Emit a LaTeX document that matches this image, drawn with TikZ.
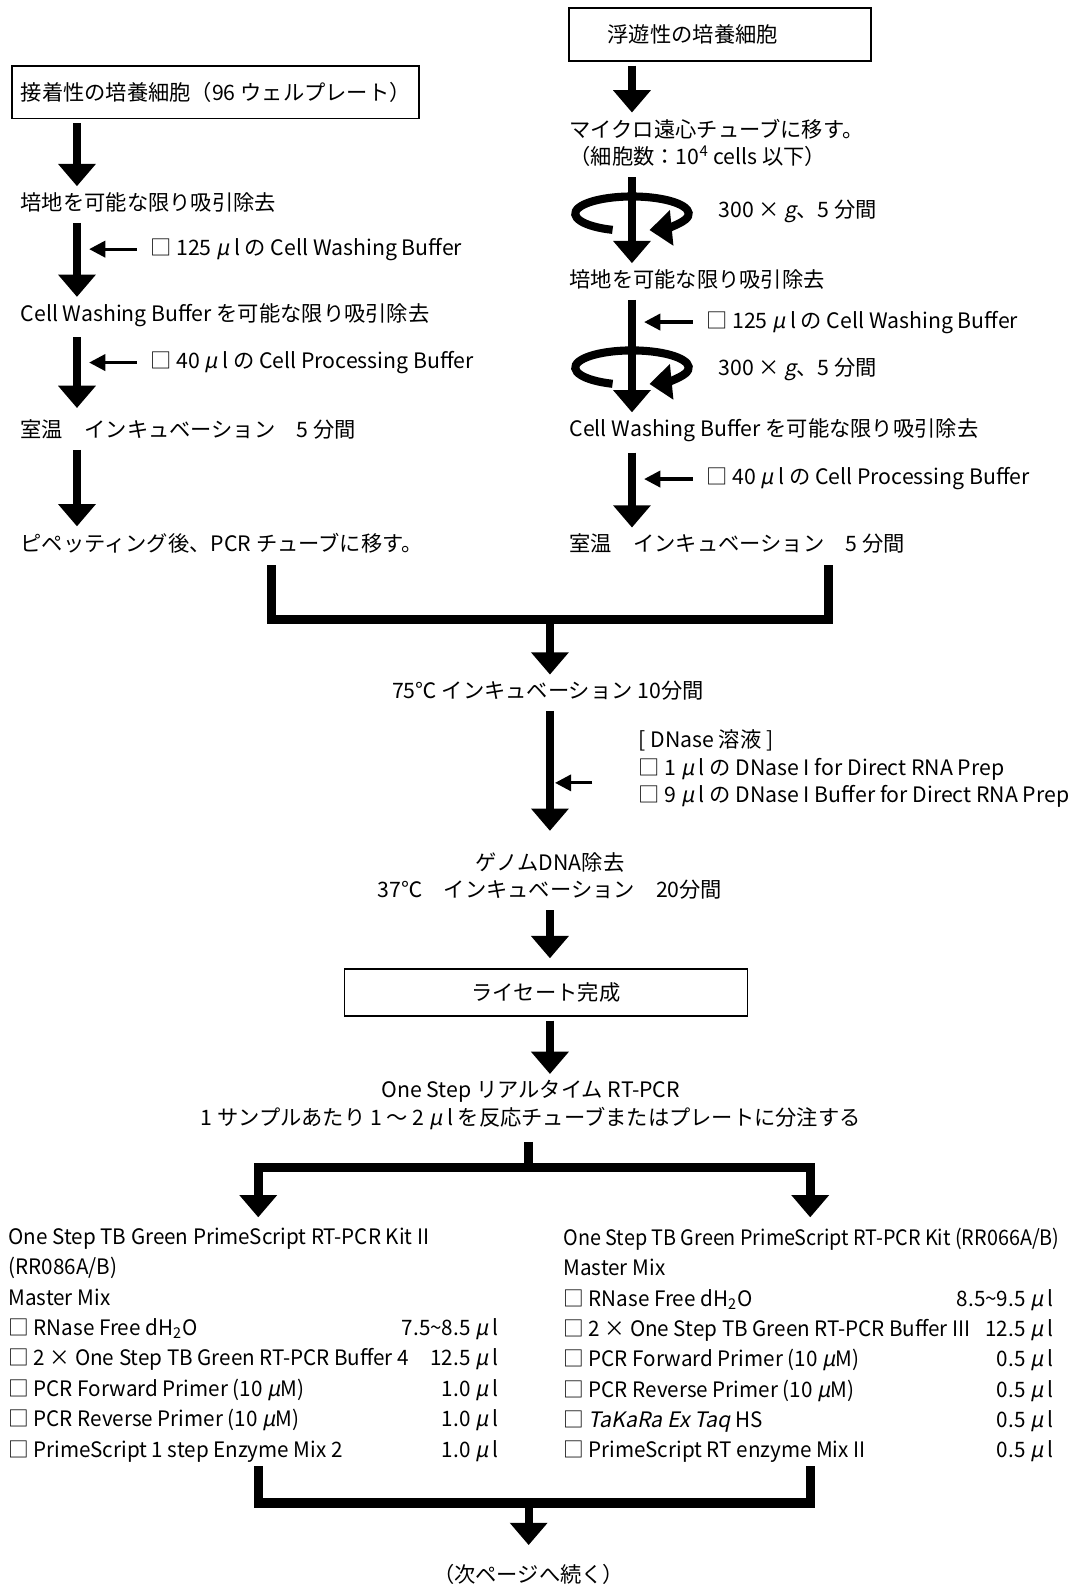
\documentclass[tikz,border=0pt]{standalone}
\usepackage{fontspec}
\setmainfont{Noto Sans CJK JP}
\newfontfamily\slantfont[FakeSlant=0.2]{Noto Sans CJK JP}
\newfontfamily\kitface[FakeStretch=0.97]{Noto Sans CJK JP}
\newfontfamily\narrowface[FakeStretch=0.93]{Noto Sans CJK JP}
\usetikzlibrary{positioning,calc,arrows.meta}

\newcommand{\stepfont}{\fontsize{10.5pt}{13.5pt}\selectfont}
\newcommand{\kitfont}{\kitface\fontsize{10.5pt}{15pt}\selectfont}
\newcommand{\microl}{{\slantfont μ}\hspace{0.2em}l}
\newcommand{\microm}{{\slantfont μ}M}
\newcommand{\kitrow}[2]{\makebox[242pt][l]{#1\hfill#2}}

\begin{document}
\begin{tikzpicture}[x=0.5pt, y=-0.5pt,
    stepbox/.style={rectangle, draw, line width=0.8pt, minimum width=#1,
                    minimum height=26pt, inner sep=0pt, font=\stepfont},
    steptext/.style={anchor=west, align=left, inner xsep=0pt, inner ysep=3pt,
                     font=\stepfont},
    kitlist/.style={anchor=north west, align=left, inner sep=0pt, font=\kitfont},
    flowarrow/.style={-{Triangle[width=18pt,length=11pt]}, line width=4pt,
                      shorten <=2pt},
    addarrow/.style={-{Triangle[width=8pt,length=8pt]}, line width=1.6pt,
                     shorten <=6.5pt, shorten >=6pt},
    spinarrow/.style={-{Triangle[width=17pt,length=11pt]}, line width=4pt},
    mergeline/.style={line width=4.5pt}
]
\useasboundingbox (0,0) rectangle (1058,1568);

% left column
\coordinate (lcol) at (76,0);
\node[stepbox=201pt] (adhcell) at (213,91) {接着性の培養細胞（96 ウェルプレート）};
\node[steptext] (lmed) at (20,200) {培地を可能な限り吸引除去};
\node[steptext] (lwash) at (20,311) {Cell Washing Buffer を可能な限り吸引除去};
\node[steptext] (lincub) at (20,424) {室温　インキュベーション　5 分間};
\node[steptext] (lpcr) at (20,536) {ピペッティング後、PCR チューブに移す。};
\node[steptext] (lwashadd) at (148,246) {□ 125 \microl\ の Cell Washing Buffer};
\node[steptext] (lprocadd) at (148,358) {□ 40 \microl\ の Cell Processing Buffer};

\draw[flowarrow] (adhcell.south -| lcol) -- (lmed.north -| lcol);
\draw[flowarrow] (lmed.south -| lcol) -- (lwash.north -| lcol);
\draw[flowarrow, shorten >=2.5pt] (lwash.south -| lcol) -- (lincub.north -| lcol);
\draw[flowarrow] (lincub.south -| lcol) -- (lpcr.north -| lcol);
\draw[addarrow] (lwashadd.west) -- (lwashadd.west -| lcol);
\draw[addarrow] (lprocadd.west) -- (lprocadd.west -| lcol);

% right column
\coordinate (rcol) at (624,0);
\node[stepbox=149pt, align=left, text width=111pt, inner xsep=19pt] (suscell) at (711,34) {浮遊性の培養細胞};
\node[steptext] (rtube) at (562,141) {マイクロ遠心チューブに移す。\\（細胞数：10\textsuperscript{4} cells 以下）};
\node[steptext] (rmed) at (562,276) {培地を可能な限り吸引除去};
\node[steptext] (rwash) at (562,425) {Cell Washing Buffer を可能な限り吸引除去};
\node[steptext] (rincub) at (562,537) {室温　インキュベーション　5 分間};
\node[steptext] (rspin1) at (709,209) {300 × {\slantfont g}、5 分間};
\node[steptext] (rwashadd) at (697,318) {□ 125 \microl\ の Cell Washing Buffer};
\node[steptext] (rspin2) at (709,365) {300 × {\slantfont g}、5 分間};
\node[steptext] (rprocadd) at (697,473) {□ 40 \microl\ の Cell Processing Buffer};

\draw[flowarrow] (suscell.south -| rcol) -- (rtube.north -| rcol);
\draw[flowarrow] (rtube.south -| rcol) -- (rmed.north -| rcol);
\draw[flowarrow] (rmed.south -| rcol) -- (rwash.north -| rcol);
\draw[flowarrow] (rwash.south -| rcol) -- (rincub.north -| rcol);
\draw[addarrow] (rwashadd.west) -- (rwashadd.west -| rcol);
\draw[addarrow] (rprocadd.west) -- (rprocadd.west -| rcol);

% centrifuge
\coordinate (spin1) at (624,211);
\coordinate (spin2) at (624,363);
\draw[spinarrow] ($(spin1)+(250:28pt and 8.5pt)$) arc[start angle=250, end angle=-72, x radius=28pt, y radius=8.5pt];
\draw[spinarrow] ($(spin2)+(250:28pt and 8.5pt)$) arc[start angle=250, end angle=-72, x radius=28pt, y radius=8.5pt];

% merge
\coordinate (lmerge) at (268,558);
\coordinate (rmerge) at (818,558);
\coordinate (mergebar) at (543,612);
\draw[mergeline] (lmerge) |- (mergebar) -| (rmerge);
\node[steptext, anchor=center] (heat75) at (541,682) {75℃ インキュベーション 10分間};
\draw[flowarrow] (mergebar) -- (heat75.north -| mergebar);

% DNase
\node[steptext, anchor=center, align=center] (gdna) at (543,865) {ゲノムDNA除去\\37℃　インキュベーション　20分間};
\node[steptext] (dnase) at (630,759) {[ DNase 溶液 ]\\□ 1 \microl\ の DNase I for Direct RNA Prep\\□ 9 \microl\ の DNase I Buffer for Direct RNA Prep};
\coordinate (dnasein) at (585,773);
\draw[flowarrow, shorten >=7.5pt] (heat75.south -| mergebar) -- (gdna.north -| mergebar);
\draw[addarrow, shorten <=0pt, shorten >=2.5pt] (dnasein) -- (dnasein -| mergebar);

% lysate
\node[stepbox=199pt, minimum height=23pt] (lysate) at (539,980) {ライセート完成};
\node[steptext, anchor=center, align=center] (rtpcr) at (524,1091) {One Step リアルタイム RT-PCR\\1 サンプルあたり 1 ～ 2 \microl\ を反応チューブまたはプレートに分注する};
\draw[flowarrow, shorten >=5pt] (gdna.south -| mergebar) -- (lysate.north -| mergebar);
\draw[flowarrow] (lysate.south -| mergebar) -- (rtpcr.north -| mergebar);

% split
\coordinate (splitbar) at (522,1153);
\coordinate (lkitcol) at (255,0);
\coordinate (rkitcol) at (800,0);
\node[kitlist] (kitII) at (8,1212) {One Step TB Green PrimeScript RT-PCR Kit II\\
    (RR086A/B)\\
    Master Mix\\
    \kitrow{□ RNase Free dH\textsubscript{2}O}{7.5\textasciitilde 8.5 \microl}\\
    \kitrow{□ 2 × One Step TB Green RT-PCR Buffer 4}{12.5 \microl}\\
    \kitrow{□ PCR Forward Primer (10 \microm)}{1.0 \microl}\\
    \kitrow{□ PCR Reverse Primer (10 \microm)}{1.0 \microl}\\
    \kitrow{□ PrimeScript 1 step Enzyme Mix 2}{1.0 \microl}};
\node[kitlist] (kitI) at (556,1212) {{\narrowface One Step TB Green PrimeScript RT-PCR Kit (RR066A/B)}\\
    Master Mix\\
    \kitrow{□ RNase Free dH\textsubscript{2}O}{8.5\textasciitilde 9.5 \microl}\\
    \kitrow{□ 2 × One Step TB Green RT-PCR Buffer III}{12.5 \microl}\\
    \kitrow{□ PCR Forward Primer (10 \microm)}{0.5 \microl}\\
    \kitrow{□ PCR Reverse Primer (10 \microm)}{0.5 \microl}\\
    \kitrow{□ {\slantfont TaKaRa Ex Taq} HS}{0.5 \microl}\\
    \kitrow{□ PrimeScript RT enzyme Mix II}{0.5 \microl}};
\draw[mergeline, shorten <=3pt] (rtpcr.south -| splitbar) -- (splitbar);
\draw[flowarrow, line width=4.5pt, shorten <=0pt, shorten >=5pt] (splitbar) -| (kitII.north -| lkitcol);
\draw[flowarrow, line width=4.5pt, shorten <=0pt, shorten >=5pt] (splitbar) -| (kitI.north -| rkitcol);

% join
\coordinate (lend) at (255,1448);
\coordinate (rend) at (800,1448);
\coordinate (endbar) at (522,1484);
\draw[mergeline] (lend) |- (endbar) -| (rend);
\node[steptext, anchor=center] (nextpage) at (522,1555) {（次ページへ続く）};
\draw[flowarrow, shorten <=0pt, shorten >=6.5pt] (endbar) -- (nextpage.north);

\end{tikzpicture}
\end{document}
